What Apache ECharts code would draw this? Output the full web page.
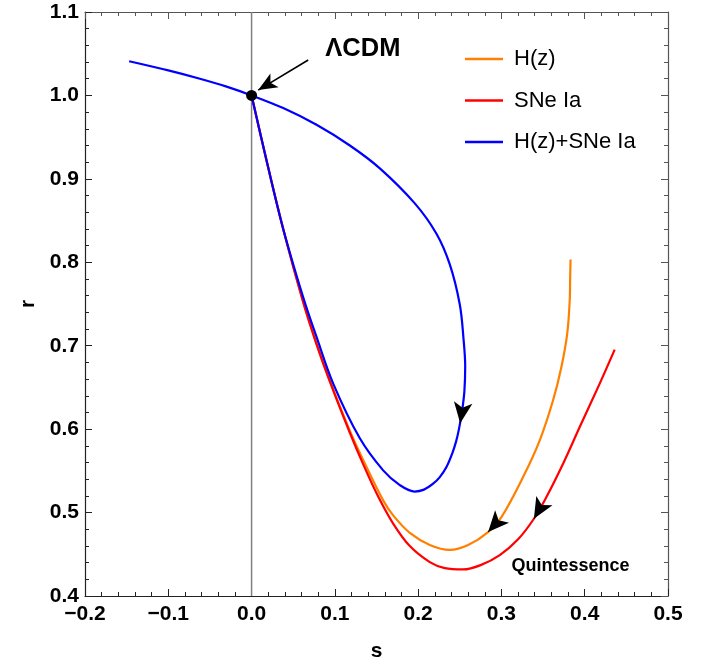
<!DOCTYPE html>
<html><head><meta charset="utf-8">
<script src="https://cdn.jsdelivr.net/npm/echarts@6/dist/echarts.min.js"></script>
<style>html,body{margin:0;padding:0;background:#fff}#c{width:725px;height:663px}</style>
</head><body><div id="c"></div>
<script>
// ---- data (s, r) ----
const hzCurve = [
  [0.383, 0.8033], [0.3825, 0.780], [0.382, 0.7545], [0.379, 0.7145], [0.372, 0.6745],
  [0.362, 0.6346], [0.346, 0.5866], [0.326, 0.5426], [0.300, 0.4946], [0.284, 0.4766],
  [0.260, 0.461], [0.238, 0.4552], [0.214, 0.4612], [0.190, 0.4756], [0.170, 0.4966],
  [0.158, 0.5146], [0.135, 0.561], [0.118, 0.598], [0.094, 0.658], [0.078, 0.7025],
  [0.062, 0.7525], [0.038, 0.840], [0.018, 0.922], [0, 1.0]
];
const sneCurve = [
  [0.436, 0.6953], [0.418, 0.6546], [0.394, 0.6025], [0.374, 0.5586], [0.354, 0.5186],
  [0.339, 0.4926], [0.320, 0.468], [0.298, 0.449], [0.275, 0.437], [0.254, 0.4318],
  [0.232, 0.4334], [0.214, 0.4406], [0.190, 0.4598], [0.170, 0.4868], [0.152, 0.5192],
  [0.135, 0.5557], [0.118, 0.5957], [0.094, 0.6569], [0.078, 0.7017], [0.062, 0.7521],
  [0.038, 0.8397], [0.018, 0.9217], [0, 1.0]
];
const jointCurve = [
  [-0.147, 1.041], [-0.100, 1.030], [-0.062, 1.020], [-0.030, 1.0105], [0, 1.0],
  [0.038, 0.9848], [0.078, 0.9648], [0.118, 0.940], [0.154, 0.9126], [0.196, 0.8706],
  [0.222, 0.8342], [0.238, 0.7974], [0.250, 0.7494], [0.2545, 0.708], [0.2565, 0.675],
  [0.2555, 0.645], [0.2525, 0.620], [0.249, 0.600], [0.2455, 0.585],
  [0.241, 0.571], [0.234, 0.5546], [0.226, 0.5425], [0.218, 0.5346], [0.207, 0.5275],
  [0.196, 0.5252], [0.178, 0.533], [0.158, 0.5506], [0.130, 0.589], [0.098, 0.6546],
  [0.078, 0.7105], [0.062, 0.758], [0.038, 0.840], [0.018, 0.922], [0, 1.0]
];
const lcdmPoint = [[0, 1.0]];
const zeroLine = [[0, 0.4], [0, 1.1]];
// direction arrows on the trajectories: [from, tip] in (s, r)
const hzArrow = [[0.2907, 0.4841], [0.284, 0.4766]];
const sneArrow = [[0.3465, 0.5056], [0.339, 0.4926]];
const jointArrow = [[0.2525, 0.621], [0.2505, 0.607]];
const lcdmPointer = [[0.068, 1.0424], [0.008, 1.0064]];
const notes = [
  { name: 'ΛCDM', value: [0.1336, 1.0556] },
  { name: 'Quintessence', value: [0.383, 0.4358] }
];
const noteSizes = [25.5, 18];
const seriesNames = ['H(z)', 'SNe Ia', 'H(z)+SNe Ia'];
const xTickLabels = ['−0.2', '−0.1', '0.0', '0.1', '0.2', '0.3', '0.4', '0.5'];
const yTickLabels = ['0.4', '0.5', '0.6', '0.7', '0.8', '0.9', '1.0', '1.1'];

const FONT = 'Liberation Sans, Arial, sans-serif';
const xMin = -0.2, xMax = 0.5, yMin = 0.4, yMax = 1.1, step = 0.1;

function axisCommon(pos, isX, showLabels) {
  const min = isX ? xMin : yMin, max = isX ? xMax : yMax;
  const labels = isX ? xTickLabels : yTickLabels;
  const col = (pos === 'top' || pos === 'right') ? '#555' : '#222';
  return {
    type: 'value', position: pos, min: min, max: max, interval: step,
    axisLine: { show: true, onZero: false, lineStyle: { color: col, width: 1.2 } },
    axisTick: { show: true, inside: true, length: 7, lineStyle: { color: col, width: 1 } },
    minorTick: { show: true, splitNumber: 5, length: 4, lineStyle: { color: col, width: 1 } },
    splitLine: { show: false },
    axisLabel: {
      show: showLabels, margin: isX ? 8 : 6,
      color: '#000', fontFamily: FONT, fontWeight: 'bold', fontSize: 21,
      formatter: v => labels[Math.round((v - min) / step)]
    }
  };
}

const arrowMark = (seg, size, width) => ({
  silent: true, animation: false,
  symbol: ['none', 'arrow'], symbolSize: size,
  lineStyle: { color: '#000', width: width, type: 'solid', opacity: 1 },
  itemStyle: { color: '#000' },
  label: { show: false }, emphasis: { disabled: true },
  data: [[{ coord: seg[0] }, { coord: seg[1] }]]
});

const curve = (name, data, color, arrow) => ({
  type: 'line', name: name, data: data, showSymbol: false, smooth: 0.35,
  color: color, lineStyle: { color: color, width: 2.2 },
  emphasis: { disabled: true },
  markLine: arrowMark(arrow, [14, 21], 1)
});

const chart = echarts.init(document.getElementById('c'), null, { renderer: 'canvas' });
chart.setOption({
  animation: false,
  backgroundColor: '#fff',
  grid: { left: 85, right: 57, top: 12, bottom: 67, outerBoundsMode: 'none', containLabel: false },
  xAxis: [
    Object.assign(axisCommon('bottom', true, true), {
      name: 's', nameLocation: 'middle', nameGap: 45,
      nameTextStyle: { fontFamily: FONT, fontWeight: 'bold', fontSize: 21, color: '#000' }
    }),
    axisCommon('top', true, false)
  ],
  yAxis: [
    Object.assign(axisCommon('left', false, true), {
      name: 'r', nameLocation: 'middle', nameGap: 46, nameRotate: 90,
      nameTextStyle: { fontFamily: FONT, fontWeight: 'bold', fontSize: 21, color: '#000' }
    }),
    axisCommon('right', false, false)
  ],
  legend: {
    data: seriesNames, orient: 'vertical', left: 465, top: 48, padding: 0,
    icon: 'rect', itemWidth: 38, itemHeight: 2.5, itemGap: 19.5,
    textStyle: { fontFamily: FONT, fontSize: 22, lineHeight: 22, color: '#000', padding: [0, 0, 0, 6] }
  },
  series: [
    {
      type: 'line', name: 'zero', data: zeroLine, showSymbol: false, silent: true,
      lineStyle: { color: '#808080', width: 1.5 }
    },
    curve(seriesNames[0], hzCurve, '#FF8000', hzArrow),
    curve(seriesNames[1], sneCurve, '#FF0000', sneArrow),
    curve(seriesNames[2], jointCurve, '#0000FF', jointArrow),
    {
      type: 'scatter', name: 'lcdm', data: lcdmPoint, symbolSize: 11, silent: true,
      itemStyle: { color: '#000', opacity: 1 }, z: 5,
      markLine: arrowMark(lcdmPointer, [12, 19], 1.6)
    },
    {
      type: 'scatter', name: 'notes', symbolSize: 0, silent: true, z: 6,
      itemStyle: { opacity: 1 },
      data: notes.map((n, i) => ({
        name: n.name, value: n.value,
        label: { fontSize: noteSizes[i] }
      })),
      label: {
        show: true, position: 'inside', color: '#000', opacity: 1,
        fontFamily: FONT, fontWeight: 'bold',
        formatter: p => p.data.name
      }
    }
  ]
});
</script></body></html>
